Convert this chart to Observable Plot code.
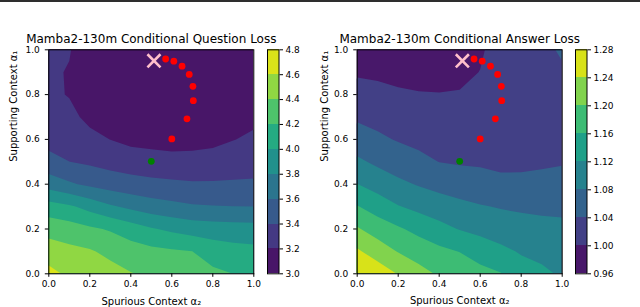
<!DOCTYPE html>
<html><head><meta charset="utf-8">
<script src="https://cdn.jsdelivr.net/npm/d3@7"></script>
<script src="https://cdn.jsdelivr.net/npm/@observablehq/plot@0.6"></script>
<style>
body{margin:0;background:#fff;}
#root{position:relative;width:640px;height:307px;overflow:hidden;font-family:"DejaVu Sans";background:#fff;}
#root > *{position:absolute;top:0;}
#topline{left:0;width:640px;height:2px;background:#2e2e2e;z-index:5;}
</style></head><body><div id="root"><div id="topline"></div></div>
<script>
// Axis ticks
const axisTicks = [0, 0.2, 0.4, 0.6, 0.8, 1.0];
// Contour levels (colour bar boundaries)
const questionLevels = [3.0, 3.2, 3.4, 3.6, 3.8, 4.0, 4.2, 4.4, 4.6, 4.8];
const answerLevels = [0.96, 1.00, 1.04, 1.08, 1.12, 1.16, 1.20, 1.24, 1.28];
// Grid sample positions: alpha2 (x) = 0..1 step 0.1, alpha1 (y) rows listed from 1.0 down to 0.0
const gridAlpha = [0, 0.1, 0.2, 0.3, 0.4, 0.5, 0.6, 0.7, 0.8, 0.9, 1.0];

// Conditional question loss, rows y = 1.0 ... 0.0, columns x = 0.0 ... 1.0
const questionLoss = [
  [3.25, 3.21, 3.10, 3.07, 3.05, 3.04, 3.03, 3.04, 3.06, 3.10, 3.13],
  [3.225, 3.19, 3.08, 3.06, 3.04, 3.03, 3.02, 3.03, 3.05, 3.09, 3.12],
  [3.235, 3.19, 3.10, 3.08, 3.06, 3.05, 3.03, 3.04, 3.06, 3.10, 3.13],
  [3.27, 3.252, 3.15, 3.12, 3.10, 3.08, 3.06, 3.07, 3.09, 3.13, 3.16],
  [3.33, 3.326, 3.256, 3.198, 3.15, 3.14, 3.12, 3.13, 3.15, 3.195, 3.231],
  [3.469, 3.401, 3.369, 3.332, 3.30, 3.278, 3.267, 3.267, 3.282, 3.304, 3.322],
  [3.712, 3.627, 3.56, 3.509, 3.477, 3.452, 3.436, 3.421, 3.42, 3.423, 3.426],
  [4.086, 4.031, 3.93, 3.827, 3.754, 3.693, 3.654, 3.621, 3.609, 3.603, 3.601],
  [4.325, 4.289, 4.233, 4.18, 4.10, 4.018, 3.961, 3.914, 3.897, 3.885, 3.877],
  [4.50, 4.453, 4.42, 4.352, 4.29, 4.25, 4.224, 4.201, 4.114, 4.073, 4.055],
  [4.66, 4.56, 4.52, 4.47, 4.41, 4.36, 4.325, 4.283, 4.24, 4.199, 4.16]
];

// Conditional answer loss, rows y = 1.0 ... 0.0, columns x = 0.0 ... 1.0
const answerLoss = [
  [0.985, 0.98, 0.978, 0.977, 0.978, 0.98, 0.994, 1.02, 1.025, 1.03, 1.045],
  [0.995, 0.993, 0.99, 0.988, 0.988, 0.99, 1.0009, 1.021, 1.025, 1.03, 1.035],
  [1.016, 1.0106, 1.0049, 1.0021, 1.0013, 1.0028, 1.0095, 1.023, 1.026, 1.03, 1.033],
  [1.0343, 1.0277, 1.021, 1.0164, 1.014, 1.0139, 1.0182, 1.025, 1.026, 1.029, 1.031],
  [1.0586, 1.0471, 1.0372, 1.0307, 1.0267, 1.0251, 1.0268, 1.027, 1.028, 1.03, 1.032],
  [1.087, 1.0724, 1.061, 1.0497, 1.0394, 1.0362, 1.0355, 1.03, 1.031, 1.034, 1.037],
  [1.1208, 1.1033, 1.0883, 1.0772, 1.0681, 1.0602, 1.0539, 1.0507, 1.0501, 1.0518, 1.0545],
  [1.162, 1.1422, 1.1222, 1.1088, 1.0985, 1.09, 1.0827, 1.0773, 1.074, 1.0722, 1.0719],
  [1.204, 1.1818, 1.165, 1.1489, 1.1326, 1.118, 1.1093, 1.1018, 1.0958, 1.0912, 1.0884],
  [1.2456, 1.2215, 1.198, 1.1822, 1.169, 1.159, 1.1418, 1.1287, 1.1168, 1.1092, 1.1042],
  [1.275, 1.262, 1.238, 1.214, 1.195, 1.184, 1.173, 1.162, 1.135, 1.128, 1.115]
];

// Optimisation path (red dots), start (pink cross) and initial point (green dot)
const pathX = [0.57, 0.61, 0.65, 0.685, 0.703, 0.705, 0.674, 0.60];
const pathY = [0.959, 0.949, 0.927, 0.89, 0.837, 0.773, 0.692, 0.602];
const crossX = [0.513];
const crossY = [0.951];
const greenX = [0.5];
const greenY = [0.502];

const titles = ["Mamba2-130m Conditional Question Loss", "Mamba2-130m Conditional Answer Loss"];
const xLabel = "Spurious Context α₂";
const yLabel = "Supporting Context α₁";

const FONT = "DejaVu Sans";
const PT = 49.3, PB = 33.7;
const n = gridAlpha.length;
const step = gridAlpha[1] - gridAlpha[0];

// matplotlib-style band colours: each band coloured at its midpoint, normalised over the full level range
function bandColor(levels) {
  const half = (levels[1] - levels[0]) / 2;
  return {type: "linear", scheme: "viridis", domain: [levels[0] - half, levels[levels.length - 1] - half]};
}

function panel(rows, levels, title, marginLeft, marginRight, ylabelDx) {
  const path = pathX.map((x, i) => ({x, y: pathY[i]}));
  const cross = crossX.map((x, i) => ({x, y: crossY[i]}));
  const green = greenX.map((x, i) => ({x, y: greenY[i]}));
  return Plot.plot({
    width: marginLeft + 205 + marginRight, height: 307,
    marginTop: PT, marginBottom: PB, marginLeft, marginRight,
    style: {fontFamily: FONT, fontSize: "9px", background: "transparent", color: "#000"},
    x: {domain: [0, 1]},
    y: {domain: [0, 1]},
    color: bandColor(levels),
    marks: [
      Plot.contour(rows.flat(), {
        width: n, height: n,
        x1: gridAlpha[0] - step / 2, x2: gridAlpha[n - 1] + step / 2,
        y1: gridAlpha[n - 1] + step / 2, y2: gridAlpha[0] - step / 2,
        thresholds: levels.slice(0, -1),
        fill: Plot.identity,
        clip: true
      }),
      Plot.frame({stroke: "#000", strokeWidth: 1}),
      Plot.axisX({ticks: axisTicks, tickFormat: d3.format(".1f"), tickSize: 3.5, tickPadding: 3.5, label: null}),
      Plot.axisY({ticks: axisTicks, tickFormat: d3.format(".1f"), tickSize: 3.5, tickPadding: 5.5, label: null}),
      Plot.dot(path, {x: "x", y: "y", r: 3.4, fill: "red"}),
      Plot.dot(green, {x: "x", y: "y", r: 3.4, fill: "green"}),
      Plot.dot(cross, {x: "x", y: "y", r: 6, symbol: "times", stroke: "pink", strokeWidth: 2.6}),
      Plot.text([title], {text: d => d, frameAnchor: "top", dy: -6.6, lineAnchor: "bottom", fontSize: 12, fill: "#000"}),
      Plot.text([xLabel], {text: d => d, frameAnchor: "bottom", dy: 30.7, lineAnchor: "bottom", fontSize: 10, fill: "#000"}),
      Plot.text([yLabel], {text: d => d, frameAnchor: "left", dx: ylabelDx, rotate: -90, fontSize: 10, fill: "#000"})
    ]
  });
}

function colorbar(levels, fmt) {
  const bands = levels.slice(0, -1).map((lo, i) => ({lo, hi: levels[i + 1]}));
  return Plot.plot({
    width: 60, height: 307,
    marginTop: PT, marginBottom: PB, marginLeft: 7, marginRight: 41.5,
    style: {fontFamily: FONT, fontSize: "9px", background: "transparent", color: "#000"},
    x: {domain: [0, 1], axis: null},
    y: {domain: [levels[0], levels[levels.length - 1]], axis: null},
    color: bandColor(levels),
    marks: [
      Plot.rect(bands, {x1: 0, x2: 1, y1: "lo", y2: "hi", fill: "lo", shapeRendering: "crispEdges"}),
      Plot.frame({stroke: "#000"}),
      Plot.axisY({anchor: "right", ticks: levels, tickFormat: d3.format(fmt), tickSize: 3.5, tickPadding: 3, label: null})
    ]
  });
}

const root = document.getElementById("root");
function place(el, left) { el.style.left = left + "px"; root.appendChild(el); }
place(panel(questionLoss, questionLevels, titles[0], 48.3, 66.7, -35), 0);
place(colorbar(questionLevels, ".1f"), 260);
place(panel(answerLoss, answerLevels, titles[1], 46.7, 67.7, -32.5), 310);
place(colorbar(answerLevels, ".2f"), 568);
</script>
</body></html>
